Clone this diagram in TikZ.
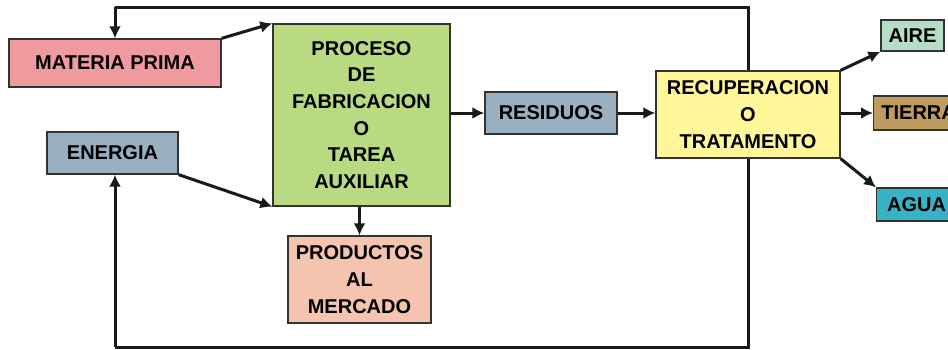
\documentclass[tikz,border=0pt]{standalone}
\usepackage{fontspec}
\setmainfont{Liberation Sans}
\usetikzlibrary{arrows.meta}
\definecolor{mpcol}{HTML}{EE9A9F}
\definecolor{proccol}{HTML}{B8DA80}
\definecolor{enercol}{HTML}{97AFBF}
\definecolor{prodcol}{HTML}{F5C4AF}
\definecolor{rescol}{HTML}{98B0C0}
\definecolor{reccol}{HTML}{FFF799}
\definecolor{airecol}{HTML}{B4DFC6}
\definecolor{tierracol}{HTML}{BF9B5D}
\definecolor{aguacol}{HTML}{3AB2C6}
\begin{document}
\begin{tikzpicture}[x=1pt,y=-1pt,
    box/.style={draw=black!80, line width=1.3pt, inner sep=0pt, align=center,
      font=\bfseries\fontsize{20}{26.7}\selectfont},
    flow/.style={line width=3pt, draw=black!90, -{Latex[length=12pt,width=12pt]}},
    line/.style={line width=3pt, draw=black!90}]
  \useasboundingbox (0,0) rectangle (948,349);
  % nodes
  \node[box, fill=mpcol, minimum width=212pt, minimum height=48pt] (mp) at (115,63) {MATERIA PRIMA};
  \node[box, fill=proccol, minimum width=177pt, minimum height=182pt] (proc) at (361.5,115) {PROCESO\\DE\\FABRICACION\\O\\TAREA\\AUXILIAR};
  \node[box, fill=enercol, minimum width=131pt, minimum height=42pt] (ener) at (112.5,153) {ENERGIA};
  \node[box, fill=prodcol, minimum width=143pt, minimum height=87pt] (prod) at (359.5,279.5) {PRODUCTOS\\AL\\MERCADO};
  \node[box, fill=rescol, minimum width=132pt, minimum height=42pt] (res) at (551,113) {RESIDUOS};
  \node[box, fill=reccol, minimum width=184pt, minimum height=87pt] (rec) at (748,114.5) {RECUPERACION\\O\\TRATAMENTO};
  \node[box, fill=airecol, minimum width=63pt, minimum height=31pt] (aire) at (912.5,35.5) {AIRE};
  \node[box, fill=tierracol, minimum width=90pt, minimum height=34pt, anchor=west] (tierra) at (873,113) {TIERRA};
  \node[box, fill=aguacol, minimum width=80pt, minimum height=33pt, anchor=west] (agua) at (876,204.5) {AGUA};
  % feedback loops
  \coordinate (tl) at (115,7);
  \coordinate (tr) at (748,7);
  \coordinate (bl) at (115,347);
  \coordinate (br) at (748,347);
  \draw[line] (rec.north) -- (tr) -- (tl);
  \draw[flow] (tl) -- (tl |- mp.north);
  \draw[line] (rec.south) -- (br) -- (bl);
  \draw[flow] (bl) -- (bl |- ener.south);
  % flows
  \draw[flow] (mp.north east) -- (proc.north west);
  \draw[flow] (ener.south east) -- (proc.south west);
  \draw[flow] (proc.south -| prod.north) -- (prod.north);
  \draw[flow] (proc.east |- res.west) -- (res.west);
  \draw[flow] (res.east) -- (rec.west |- res.east);
  \draw[flow] (rec.north east) -- (aire.south west);
  \draw[flow] (rec.east |- tierra.west) -- (tierra.west);
  \draw[flow] (rec.south east) -- (agua.north west);
\end{tikzpicture}
\end{document}
